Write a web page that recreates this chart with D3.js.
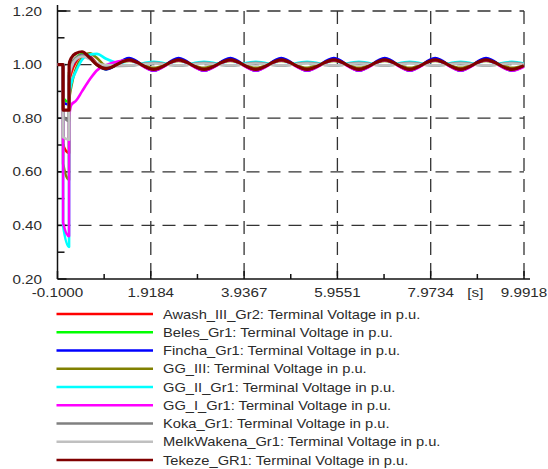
<!DOCTYPE html>
<html>
<head>
<meta charset="utf-8">
<script src="https://cdn.jsdelivr.net/npm/d3@7"></script>
<style>
  body { margin: 0; background: #fff; }
  svg { display: block; }
  text { font-family: "Liberation Sans", Arial, sans-serif; fill: #2b2b2b; }
</style>
</head>
<body>
<svg id="chart" width="548" height="469"></svg>
<script>
// sample times in seconds (fault at 0.02 s, cleared at 0.15 s)
const times = [-0.1, 0.02, 0.021, 0.15, 0.151, 0.2, 0.3, 0.43, 0.6, 0.75, 0.95,
  1.45, 1.98, 2.52, 3.07, 3.64, 4.19, 4.74, 5.3, 5.88, 6.42, 6.98, 7.52, 8.07, 8.62, 9.17, 9.73, 9.99];

// terminal voltages in p.u., one value per sample time
const awash = [1.0, 1.0, 0.70, 0.67, 0.93, 0.97, 1.01, 1.035, 1.03, 1.005, 0.985,
  1.019, 0.981, 1.019, 0.981, 1.019, 0.981, 1.019, 0.981, 1.019, 0.981, 1.019, 0.981, 1.019, 0.981, 1.019, 0.981, 0.995];
const beles = [1.0, 1.0, 0.875, 0.86, 0.97, 1.0, 1.025, 1.038, 1.025, 1.0, 0.983,
  1.02, 0.98, 1.02, 0.98, 1.02, 0.98, 1.02, 0.98, 1.02, 0.98, 1.02, 0.98, 1.02, 0.98, 1.02, 0.98, 0.995];
const fincha = [1.0, 1.0, 0.86, 0.85, 0.96, 0.99, 1.02, 1.035, 1.028, 1.0, 0.982,
  1.024, 0.977, 1.024, 0.977, 1.024, 0.977, 1.024, 0.977, 1.024, 0.977, 1.024, 0.977, 1.024, 0.977, 1.024, 0.977, 0.994];
const ggIII = [1.0, 1.0, 0.63, 0.57, 0.86, 0.92, 0.985, 1.025, 1.042, 1.025, 0.995,
  1.014, 0.988, 1.014, 0.988, 1.014, 0.988, 1.014, 0.988, 1.014, 0.988, 1.014, 0.988, 1.014, 0.988, 1.014, 0.988, 0.998];
const ggII = [1.0, 1.0, 0.40, 0.32, 0.88, 0.93, 0.975, 1.018, 1.038, 1.04, 1.022,
  0.997, 1.01, 0.997, 1.01, 0.997, 1.01, 0.997, 1.01, 0.997, 1.01, 0.997, 1.01, 0.997, 1.01, 0.997, 1.01, 1.004];
const ggI = [1.0, 1.0, 0.41, 0.36, 0.80, 0.85, 0.865, 0.90, 0.945, 0.978, 0.998,
  1.016, 0.978, 1.016, 0.978, 1.016, 0.978, 1.016, 0.978, 1.016, 0.978, 1.016, 0.978, 1.016, 0.978, 1.016, 0.978, 0.992];
const koka = [1.0, 1.0, 0.81, 0.79, 0.97, 1.0, 1.025, 1.035, 1.025, 1.005, 0.995,
  0.996, 1.007, 0.996, 1.007, 0.996, 1.007, 0.996, 1.007, 0.996, 1.007, 0.996, 1.007, 0.996, 1.007, 0.996, 1.007, 1.002];
const melkWakena = [1.0, 1.0, 0.73, 0.72, 0.95, 0.99, 1.02, 1.03, 1.02, 1.005, 0.998,
  0.997, 1.004, 0.997, 1.004, 0.997, 1.004, 0.997, 1.004, 0.997, 1.004, 0.997, 1.004, 0.997, 1.004, 0.997, 1.004, 1.0];
const tekeze = [1.0, 1.0, 0.83, 0.83, 1.0, 1.025, 1.042, 1.048, 1.025, 1.0, 0.985,
  1.018, 0.982, 1.018, 0.982, 1.018, 0.982, 1.018, 0.982, 1.018, 0.982, 1.018, 0.982, 1.018, 0.982, 1.018, 0.982, 0.996];

const seriesNames = [
  'Awash_III_Gr2: Terminal Voltage in p.u.',
  'Beles_Gr1: Terminal Voltage in p.u.',
  'Fincha_Gr1: Terminal Voltage in p.u.',
  'GG_III: Terminal Voltage in p.u.',
  'GG_II_Gr1: Terminal Voltage in p.u.',
  'GG_I_Gr1: Terminal Voltage in p.u.',
  'Koka_Gr1: Terminal Voltage in p.u.',
  'MelkWakena_Gr1: Terminal Voltage in p.u.',
  'Tekeze_GR1: Terminal Voltage in p.u.'
];
const seriesValues = [awash, beles, fincha, ggIII, ggII, ggI, koka, melkWakena, tekeze];
const seriesColors = ['#ff0000', '#00ff00', '#0000ff', '#808000', '#00ffff', '#ff00ff', '#808080', '#c0c0c0', '#800000'];

const xTicks = [-0.1, 1.9184, 3.9367, 5.9551, 7.9734, 9.9918];
const xTickLabels = ['-0.1000', '1.9184', '3.9367', '5.9551', '7.9734', '9.9918'];
const xMinorTicks = [0.9092, 2.9276, 4.9459, 6.9643, 8.9826];
const yTicks = [0.2, 0.4, 0.6, 0.8, 1.0, 1.2];
const yTickLabels = ['0.20', '0.40', '0.60', '0.80', '1.00', '1.20'];
const yMinorTicks = [0.3, 0.5, 0.7, 0.9, 1.1];

const svg = d3.select('#chart');

const x = d3.scaleLinear().domain([-0.1, 9.9918]).range([57.5, 524]);
const y = d3.scaleLinear().domain([0.2, 1.2]).range([279, 11]);

// the source picture is a bit stretched sideways
const textScale = 1.17;

// dashed grid
const grid = svg.append('g')
  .attr('stroke', '#333')
  .attr('stroke-width', 1.3)
  .attr('stroke-dasharray', '13,8');
grid.selectAll('.hgrid')
  .data(yTicks.slice(1))
  .join('line')
  .attr('x1', x(-0.1))
  .attr('x2', x(9.9918))
  .attr('y1', d => y(d))
  .attr('y2', d => y(d));
grid.selectAll('.vgrid')
  .data(xTicks.slice(1))
  .join('line')
  .attr('x1', d => x(d))
  .attr('x2', d => x(d))
  .attr('y1', y(1.2))
  .attr('y2', y(0.2));

// axes
const axes = svg.append('g').attr('stroke', '#111').attr('stroke-width', 1.5);
axes.append('line')
  .attr('x1', x(-0.1)).attr('x2', x(-0.1))
  .attr('y1', y(1.2) - 6).attr('y2', y(0.2));
axes.append('line')
  .attr('x1', x(-0.1)).attr('x2', x(9.9918) + 6)
  .attr('y1', y(0.2)).attr('y2', y(0.2));
axes.selectAll('.xmaj')
  .data(xTicks)
  .join('line')
  .attr('x1', d => x(d)).attr('x2', d => x(d))
  .attr('y1', y(0.2)).attr('y2', y(0.2) - 8);
axes.selectAll('.xmin')
  .data(xMinorTicks)
  .join('line')
  .attr('x1', d => x(d)).attr('x2', d => x(d))
  .attr('y1', y(0.2)).attr('y2', y(0.2) - 5);
axes.selectAll('.ymaj')
  .data(yTicks)
  .join('line')
  .attr('x1', x(-0.1)).attr('x2', x(-0.1) + 9)
  .attr('y1', d => y(d)).attr('y2', d => y(d));
axes.selectAll('.ymin')
  .data(yMinorTicks)
  .join('line')
  .attr('x1', x(-0.1)).attr('x2', x(-0.1) + 7)
  .attr('y1', d => y(d)).attr('y2', d => y(d));

// tick labels
svg.append('g')
  .selectAll('text')
  .data(yTicks)
  .join('text')
  .attr('transform', d => `translate(42, ${y(d) + 4.5}) scale(${textScale},1)`)
  .attr('text-anchor', 'end')
  .style('font-size', '13px')
  .text((d, i) => yTickLabels[i]);

svg.append('g')
  .selectAll('text')
  .data(xTicks)
  .join('text')
  .attr('transform', d => `translate(${x(d)}, 297) scale(${textScale},1)`)
  .attr('text-anchor', 'middle')
  .style('font-size', '13px')
  .text((d, i) => xTickLabels[i]);

svg.append('text')
  .attr('transform', `translate(${x(8.9826) - 2}, 297) scale(${textScale},1)`)
  .attr('text-anchor', 'middle')
  .style('font-size', '13px')
  .text('[s]');

// curves
const line = d3.line()
  .x((d, i) => x(times[i]))
  .y(d => y(d))
  .curve(d3.curveMonotoneX);

svg.append('g')
  .selectAll('path')
  .data(seriesValues)
  .join('path')
  .attr('fill', 'none')
  .attr('stroke', (d, i) => seriesColors[i])
  .attr('stroke-width', (d, i) => i === 8 ? 3.2 : 2.6)
  .attr('stroke-linejoin', 'round')
  .attr('d', d => line(d));

// legend
const legendY = d3.scalePoint().domain(seriesNames).range([314, 460]);
const legend = svg.append('g')
  .selectAll('g')
  .data(seriesNames)
  .join('g')
  .attr('transform', d => `translate(0, ${legendY(d)})`);
legend.append('line')
  .attr('x1', 56.5).attr('x2', 153)
  .attr('stroke', (d, i) => seriesColors[i])
  .attr('stroke-width', 2.6);
legend.append('text')
  .attr('transform', 'translate(163, 4.5) scale(1.13,1)')
  .style('font-size', '13px')
  .text(d => d);
</script>
</body>
</html>
